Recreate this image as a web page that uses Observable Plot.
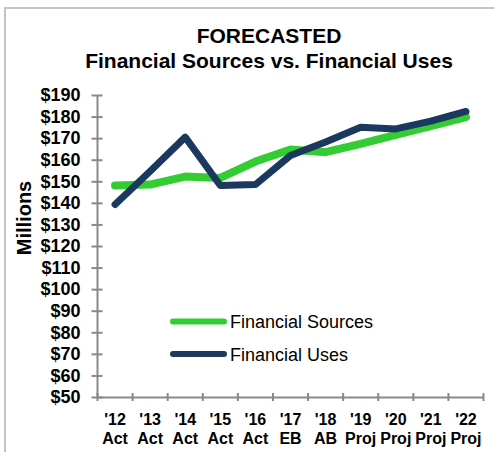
<!DOCTYPE html>
<html>
<head>
<meta charset="utf-8">
<script src="https://cdn.jsdelivr.net/npm/d3@7"></script>
<script src="https://cdn.jsdelivr.net/npm/@observablehq/plot@0.6"></script>
<style>
  html, body { margin: 0; padding: 0; background: #fff; overflow: hidden; }
  #wrap { position: relative; width: 494px; height: 452px; font-family: "Liberation Sans", Arial, sans-serif; }
  #chart { position: absolute; left: 0; top: 0; }
  #overlay { position: absolute; left: 0; top: 0; pointer-events: none; }
</style>
</head>
<body>
<div id="wrap">
  <div id="chart"></div>
  <svg id="overlay" width="494" height="452"></svg>
</div>
<script>
const years = ["'12", "'13", "'14", "'15", "'16", "'17", "'18", "'19", "'20", "'21", "'22"];
const phases = ["Act", "Act", "Act", "Act", "Act", "EB", "AB", "Proj", "Proj", "Proj", "Proj"];
const sources = [148.3, 148.7, 152.4, 151.8, 159.4, 165.0, 163.7, 167.6, 171.8, 175.8, 180.0];
const uses = [139.5, 154.9, 170.7, 148.3, 148.7, 162.2, 168.4, 175.3, 174.5, 178.1, 182.6];
const yTicks = [50, 60, 70, 80, 90, 100, 110, 120, 130, 140, 150, 160, 170, 180, 190];
const seriesNames = ["Financial Sources", "Financial Uses"];
const seriesColors = ["#33cc33", "#1b395e"];
const titleLines = ["FORECASTED", "Financial Sources vs. Financial Uses"];
const yLabel = "Millions";

const font = "'Liberation Sans', Arial, sans-serif";
const axisColor = "#898989";

const rows = (vals) => vals.map((v, i) => ({i: i + 0.5, v}));
const boundaries = d3.range(0, years.length + 1);
const centers = d3.range(years.length).map(i => i + 0.5);

const chart = Plot.plot({
  width: 494,
  height: 452,
  marginLeft: 97,
  marginRight: 11,
  marginTop: 95,
  marginBottom: 55,
  style: {fontFamily: font, background: "transparent", overflow: "visible"},
  x: {domain: [0, years.length], axis: null, label: null},
  y: {domain: [50, 190], axis: null, label: null},
  marks: [
    Plot.ruleX([0], {stroke: axisColor, strokeWidth: 2}),
    Plot.ruleY([50], {stroke: axisColor, strokeWidth: 2}),
    Plot.axisY({ticks: yTicks, tickSize: 11, dx: 5.5, tickFormat: () => "", stroke: axisColor, strokeWidth: 2, label: null}),
    Plot.axisY({ticks: yTicks, tickSize: 0, tickPadding: 17, tickFormat: d => "$" + d,
      fill: "#000", fontSize: 18, fontWeight: "bold", label: null}),
    Plot.axisX({ticks: boundaries, tickSize: 8, dy: -4, tickFormat: () => "", stroke: axisColor, strokeWidth: 2, label: null}),
    Plot.axisX({ticks: centers, tickSize: 0, tickPadding: 14,
      tickFormat: d => years[Math.round(d - 0.5)] + "\n" + phases[Math.round(d - 0.5)],
      fill: "#000", fontSize: 16, fontWeight: "bold", lineHeight: 1.19, label: null}),
    Plot.line(rows(sources), {x: "i", y: "v", stroke: seriesColors[0], strokeWidth: 8,
      strokeLinejoin: "round", strokeLinecap: "round"}),
    Plot.line(rows(uses), {x: "i", y: "v", stroke: seriesColors[1], strokeWidth: 7,
      strokeLinejoin: "round", strokeLinecap: "round"})
  ]
});
document.getElementById("chart").append(chart);

// Overlay: border, title, y label, legend
const ov = d3.select("#overlay");
ov.append("path").attr("d", "M5,452 V8 H494").attr("fill", "none").attr("stroke", "#c4c4c4").attr("stroke-width", 2);
const t = ov.append("text").attr("text-anchor", "middle").attr("font-family", font)
  .attr("font-weight", "bold").attr("font-size", 21).attr("fill", "#000");
titleLines.forEach((s, k) => t.append("tspan").attr("x", 269).attr("y", 43 + k * 25).text(s));
ov.append("text").attr("transform", "translate(31,218) rotate(-90)").attr("text-anchor", "middle")
  .attr("font-family", font).attr("font-weight", "bold").attr("font-size", 20).attr("fill", "#000").text(yLabel);
seriesNames.forEach((name, k) => {
  const y = 321.5 + k * 32.5;
  ov.append("line").attr("x1", 173).attr("x2", 224).attr("y1", y).attr("y2", y)
    .attr("stroke", seriesColors[k]).attr("stroke-width", 6).attr("stroke-linecap", "round");
  ov.append("text").attr("x", 230).attr("y", y + 6.5).attr("font-family", font)
    .attr("font-size", 18).attr("fill", "#000").text(name);
});
</script>
</body>
</html>
